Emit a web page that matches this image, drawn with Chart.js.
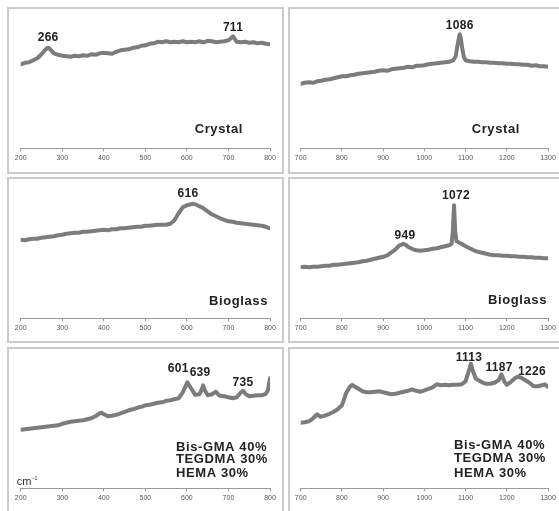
<!DOCTYPE html>
<html>
<head>
<meta charset="utf-8">
<script src="https://cdn.jsdelivr.net/npm/chart.js@4.4.1/dist/chart.umd.min.js"></script>
<style>
html, body { margin: 0; padding: 0; background: #fff; }
body { width: 559px; height: 511px; position: relative; overflow: hidden; font-family: "Liberation Sans", Arial, sans-serif; }
.frame { position: absolute; border: 2px solid #cbcbcb; box-sizing: border-box; }
canvas { position: absolute; }
</style>
</head>
<body>
<script>
// Raman spectra: wavenumber (cm-1) and relative intensity (arbitrary units)

// Crystal, 200-800 cm-1
const crystalLowCm = [200,210,220,230,240,250,260,266,270,280,290,300,310,320,330,340,350,360,370,380,390,400,410,420,430,440,450,460,470,480,490,500,510,520,530,540,550,560,570,580,590,600,610,620,630,640,650,660,670,680,690,700,706,711,716,720,730,740,750,760,770,780,790,800];
const crystalLowI  = [84,85.5,86,88,90,94,99,100.5,99.5,95,93.5,92.5,92,91.5,92.5,92,93,92.5,94,93.5,95,95.5,95,94.5,96.5,98,98.5,99,100.5,101,102.5,103,104.5,105,106.5,106,107,106,106.5,106,107,106,106.5,106,107,106,107.5,107,106,106.5,107,108,110,112,109,106.5,106,106.5,105.5,106,105,105.5,104.5,104];
const crystalLowPeaks = [266, 711];

// Crystal, 700-1300 cm-1
const crystalHighCm = [700,710,720,730,740,750,760,770,780,790,800,810,820,830,840,850,860,870,880,890,900,910,920,930,940,950,960,970,980,990,1000,1010,1020,1030,1040,1050,1060,1070,1076,1080,1084,1086,1088,1092,1096,1100,1110,1120,1130,1140,1150,1160,1170,1180,1190,1200,1210,1220,1230,1240,1250,1260,1270,1280,1290,1300];
const crystalHighI  = [64.5,65.5,66,65.5,67,67.5,68.5,69,70,71,72,72,73,73.5,74.5,75,75.5,76,76.5,77.5,78,77.5,79,79.5,80,80.5,81.5,81,82.5,82.5,83,84,84.5,85,85.5,86,86.5,88,92,102,111,114,111,100,91,88,87,86.5,86.5,86,86,85.5,85.5,85,85,84.5,84.5,84,84,83.5,83.5,82.5,83,82,82,81.5];
const crystalHighPeaks = [1086];

// Bioglass, 200-800 cm-1
const bioglassLowCm = [200,210,220,230,240,250,260,270,280,290,300,310,320,330,340,350,360,370,380,390,400,410,420,430,440,450,460,470,480,490,500,510,520,530,540,550,560,570,580,590,600,610,616,620,630,640,650,660,670,680,690,700,710,720,730,740,750,760,770,780,790,800];
const bioglassLowI  = [78.5,78,79,79.5,79.5,80.5,81,81.5,82,83,83.5,84.5,85,85.5,85.5,86.5,86.5,87,87.5,88,88.5,88,89,89,90,90,90.5,91,91.5,91.5,92.5,92.5,93,93.5,93.5,93.5,94.5,98,105,111,113,114,114.5,114,112,110,107,104,102,100,98.5,97,96.5,95.5,95,94.5,94,93.5,93,92.5,91.5,90];
const bioglassLowPeaks = [616];

// Bioglass, 700-1300 cm-1
const bioglassHighCm = [700,710,720,730,740,750,760,770,780,790,800,810,820,830,840,850,860,870,880,890,900,910,920,930,940,949,955,960,970,980,990,1000,1010,1020,1030,1040,1050,1060,1066,1069,1072,1075,1078,1090,1100,1110,1120,1130,1140,1150,1160,1170,1180,1190,1200,1210,1220,1230,1240,1250,1260,1270,1280,1290,1300];
const bioglassHighI  = [51,51.5,51,51.5,51.5,52,52.5,52.5,53.5,53.5,54,54.5,55,55.5,56,57,57.5,58.5,59.5,60.5,61.5,63,66,69,73,74.5,73.5,71.5,69.5,68,67.5,68,68.5,69.5,70,71,72,73,74.5,86,113,86,77,74.5,72,70,68,66.5,65.5,64.5,63.5,63,63,62.5,62.5,62,62,61.5,61.5,61,61,60.5,60.5,60,60];
const bioglassHighPeaks = [949, 1072];

// Resin (Bis-GMA / TEGDMA / HEMA), 200-800 cm-1
const resinLowCm = [200,210,220,230,240,250,260,270,280,290,300,310,320,330,340,350,360,370,380,390,395,400,410,420,430,440,450,460,470,480,490,500,510,520,530,540,550,560,570,580,590,601,610,620,630,636,639,643,650,660,670,675,680,690,700,710,720,728,735,742,750,760,770,780,790,795,800];
const resinLowI  = [58.5,59,59.5,60,60.5,61,61.5,62,62.5,63,64.5,65.5,66.5,67,67.5,68,69,70,72,75,75.5,74,72,72.5,73.5,75,76.5,78,79,80.5,81.5,83,83.5,84.5,85.5,86,87.5,88,89,90,96,106,100,93.5,94,99,103,98,93,94,96.5,94,92.5,92,91,90,91,95,97.5,94,92,92.5,93,93,94.5,98,110];
const resinLowPeaks = [601, 639, 735];

// Resin (Bis-GMA / TEGDMA / HEMA), 700-1300 cm-1
const resinHighCm = [700,710,720,730,740,748,760,770,780,790,800,810,820,825,830,840,850,860,870,880,890,900,910,920,930,940,950,960,970,980,990,1000,1010,1020,1030,1040,1050,1060,1070,1080,1090,1100,1106,1113,1118,1125,1140,1150,1160,1170,1180,1187,1194,1200,1210,1220,1226,1235,1245,1255,1265,1275,1285,1292,1300];
const resinHighI  = [65.5,66,67,70,74,71.5,73,74.5,76.5,79,83,95,102,103.5,102,99.5,97,96,96,96.5,97,96,95,94,94.5,95.5,96.5,97.5,99,97.5,96.5,98,99.5,101,104,103,103.5,103,103.5,103.5,104,107,115,124.5,117,109.5,106,104.5,104.5,105.5,108,114,107,103.5,106.5,110,111.5,110.5,108,105.5,102,102,103,104,101.5];
const resinHighPeaks = [1113, 1187, 1226];

// Axis tick range for each column
const lowRange = [200, 800];
const highRange = [700, 1300];

// Sample names
const crystalName = ['Crystal'];
const bioglassName = ['Bioglass'];
const resinName = ['Bis-GMA 40%', 'TEGDMA 30%', 'HEMA 30%'];

// ---- layout ----
const colLeft = [7, 288], colWidth = [277, 280];
const rowTop = [7, 177, 347], rowHeight = [167, 166, 180];
const canvasW = [277, 271];
const padL = [13.7, 12.7], padR = [14, 11];
const Y_MAX = 138;
const FONT = '"Liberation Sans", Arial, Helvetica, sans-serif';

const panels = [
  { row: 0, col: 0, cm: crystalLowCm, I: crystalLowI, range: lowRange, peaks: crystalLowPeaks,
    peakOff: [[0, 6.5], [0, 5]], name: crystalName, nameAlign: 'right', nameX: -27, nameBase: [15.6] },
  { row: 0, col: 1, cm: crystalHighCm, I: crystalHighI, range: highRange, peaks: crystalHighPeaks,
    peakOff: [[0, 5]], name: crystalName, nameAlign: 'right', nameX: -28, nameBase: [15.6] },
  { row: 1, col: 0, cm: bioglassLowCm, I: bioglassLowI, range: lowRange, peaks: bioglassLowPeaks,
    peakOff: [[-5.5, 6.5]], name: bioglassName, nameAlign: 'right', nameX: -2, nameBase: [13.3] },
  { row: 1, col: 1, cm: bioglassHighCm, I: bioglassHighI, range: highRange, peaks: bioglassHighPeaks,
    peakOff: [[1.7, 4.5], [2, 6]], name: bioglassName, nameAlign: 'right', nameX: -1, nameBase: [14.3] },
  { row: 2, col: 0, cm: resinLowCm, I: resinLowI, range: lowRange, peaks: resinLowPeaks,
    peakOff: [[-9, 10], [-3, 9], [0, 4.5]], name: resinName, nameAlign: 'left', nameX: -94, nameBase: [37.6, 25, 11.6], unit: true },
  { row: 2, col: 1, cm: resinHighCm, I: resinHighI, range: highRange, peaks: resinHighPeaks,
    peakOff: [[-2, 3], [-2.4, 3], [14.5, 1.5]], name: resinName, nameAlign: 'left', nameX: -94, nameBase: [39, 26, 11.6] }
];

function drawText(ctx, text, x, y, align, font, color, spacing) {
  ctx.save();
  ctx.font = font;
  ctx.fillStyle = color;
  ctx.textAlign = align;
  ctx.textBaseline = 'alphabetic';
  if ('letterSpacing' in ctx) ctx.letterSpacing = spacing || '0px';
  ctx.fillText(text, x, y);
  ctx.restore();
}

panels.forEach(p => {
  const frame = document.createElement('div');
  frame.className = 'frame';
  frame.style.left = colLeft[p.col] + 'px';
  frame.style.top = rowTop[p.row] + 'px';
  frame.style.width = colWidth[p.col] + 'px';
  frame.style.height = rowHeight[p.row] + 'px';
  document.body.appendChild(frame);

  const cv = document.createElement('canvas');
  cv.width = canvasW[p.col];
  cv.height = 162;
  cv.style.left = colLeft[p.col] + 'px';
  cv.style.top = rowTop[p.row] + 'px';
  cv.style.width = canvasW[p.col] + 'px';
  cv.style.height = '162px';
  document.body.appendChild(cv);

  const annotate = {
    id: 'annotate',
    afterDatasetsDraw(chart) {
      const { ctx, chartArea, scales } = chart;
      const xs = scales.x, ys = scales.y;
      p.peaks.forEach((pk, i) => {
        const idx = p.cm.indexOf(pk);
        const px = xs.getPixelForValue(pk) + p.peakOff[i][0];
        const py = ys.getPixelForValue(p.I[idx]) - p.peakOff[i][1];
        drawText(ctx, String(pk), px, py, 'center', 'bold 12px ' + FONT, '#222', '0.3px');
      });
      p.name.forEach((line, i) => {
        const nx = chartArea.right + p.nameX;
        drawText(ctx, line, nx, chartArea.bottom - p.nameBase[i], p.nameAlign, 'bold 13px ' + FONT, '#222', '0.6px');
      });
      if (p.unit) {
        const ux = chartArea.left - 4;
        const uy = chartArea.bottom - 3.5;
        drawText(ctx, 'cm', ux, uy, 'left', '11px ' + FONT, '#333', '0px');
        ctx.save();
        ctx.font = '11px ' + FONT;
        const w = ctx.measureText('cm').width;
        ctx.restore();
        drawText(ctx, '-1', ux + w + 1, uy - 5, 'left', '6px ' + FONT, '#333', '0px');
      }
    }
  };

  new Chart(cv, {
    type: 'line',
    data: {
      datasets: [{
        data: p.cm.map((c, i) => ({ x: c, y: p.I[i] })),
        borderColor: '#7c7c7c',
        borderWidth: 4,
        pointRadius: 0,
        tension: 0,
        fill: false,
        borderJoinStyle: 'round',
        borderCapStyle: 'round'
      }]
    },
    options: {
      responsive: false,
      animation: false,
      events: [],
      layout: { padding: { left: padL[p.col], right: padR[p.col], top: 3.3, bottom: 0.7 } },
      plugins: { legend: { display: false }, tooltip: { enabled: false } },
      scales: {
        x: {
          type: 'linear',
          min: p.range[0],
          max: p.range[1],
          afterFit: s => { s.height = 20; },
          ticks: {
            stepSize: 100,
            autoSkip: false,
            maxRotation: 0,
            padding: 3,
            color: '#555',
            font: { family: FONT, size: 7 },
            callback: v => String(v)
          },
          grid: { drawOnChartArea: false, drawTicks: true, tickLength: 3, color: '#9a9a9a', lineWidth: 1 },
          border: { display: true, color: '#9a9a9a', width: 1 }
        },
        y: { display: false, min: 0, max: Y_MAX }
      }
    },
    plugins: [annotate]
  });
});
</script>
</body>
</html>
